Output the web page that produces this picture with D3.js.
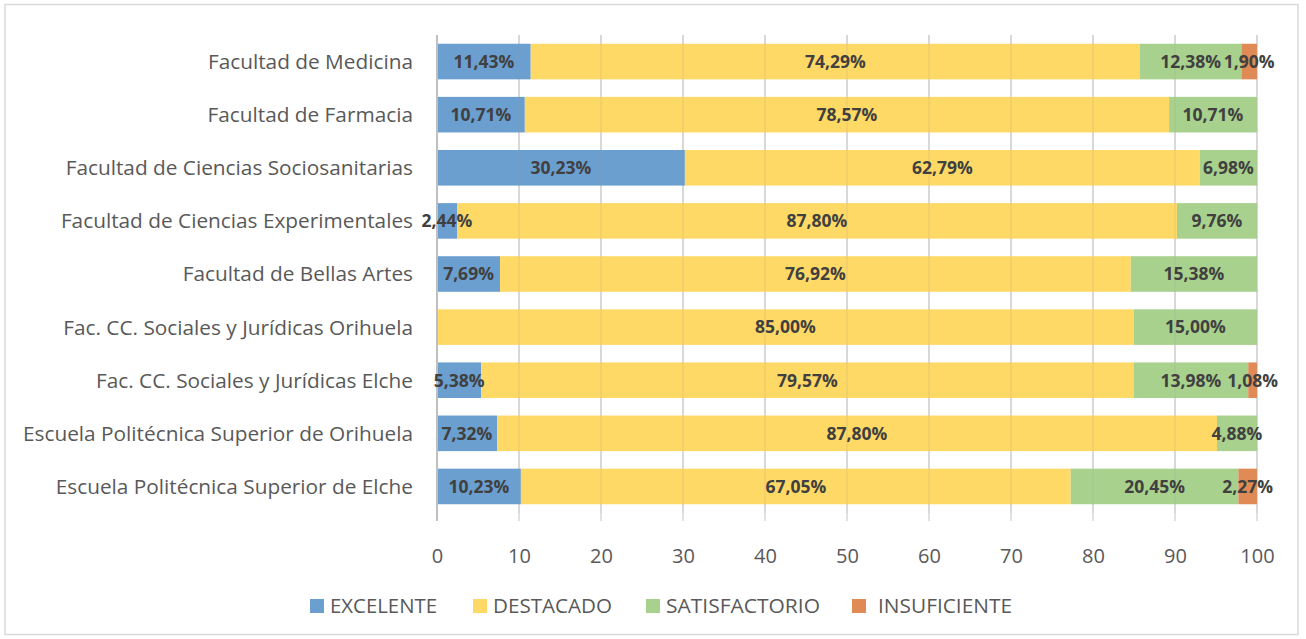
<!DOCTYPE html>
<html lang="es">
<head>
<meta charset="UTF-8">
<title>Valoración por centro</title>
<script src="https://d3js.org/d3.v7.min.js"></script>
<style>
  body { margin: 0; background: #fff; }
  svg { font-family: "Open Sans", Lato, sans-serif; }
</style>
</head>
<body>
<svg class="chart"></svg>
<script>
// datos
const categories = [
  "Facultad de Medicina",
  "Facultad de Farmacia",
  "Facultad de Ciencias Sociosanitarias",
  "Facultad de Ciencias Experimentales",
  "Facultad de Bellas Artes",
  "Fac. CC. Sociales y Jurídicas Orihuela",
  "Fac. CC. Sociales y Jurídicas Elche",
  "Escuela Politécnica Superior de Orihuela",
  "Escuela Politécnica Superior de Elche"
];
const seriesNames = ["EXCELENTE", "DESTACADO", "SATISFACTORIO", "INSUFICIENTE"];
const excelente     = [11.43, 10.71, 30.23, 2.44, 7.69, 0, 5.38, 7.32, 10.23];
const destacado     = [74.29, 78.57, 62.79, 87.80, 76.92, 85.00, 79.57, 87.80, 67.05];
const satisfactorio = [12.38, 10.71, 6.98, 9.76, 15.38, 15.00, 13.98, 4.88, 20.45];
const insuficiente  = [1.90, 0, 0, 0, 0, 0, 1.08, 0, 2.27];
const xTicks = [0, 10, 20, 30, 40, 50, 60, 70, 80, 90, 100];

const colors = ["#6b9fcf", "#ffd966", "#a9d18e", "#e08b55"];

const W = 1306, H = 639;
const svg = d3.select('.chart').attr('width', W).attr('height', H);

// marco
svg.append('rect')
  .attr('x', 5).attr('y', 4.5).attr('width', 1293).attr('height', 630)
  .attr('fill', '#fff').attr('stroke', '#d9d9d9').attr('stroke-width', 1.5);

const plotLeft = 437, plotRight = 1257, plotTop = 35, plotBottom = 513;

const x = d3.scaleLinear().domain([0, 100]).range([plotLeft, plotRight]);
const y = d3.scaleBand().domain(categories).range([plotTop, plotBottom]).paddingInner(0.33).paddingOuter(0.165);

const rows = categories.map((c, i) => ({
  cat: c,
  EXCELENTE: excelente[i],
  DESTACADO: destacado[i],
  SATISFACTORIO: satisfactorio[i],
  INSUFICIENTE: insuficiente[i]
}));
const stacked = d3.stack().keys(seriesNames)(rows);

// rejilla de fondo
svg.append('g')
  .selectAll('line')
  .data(xTicks.slice(1))
  .join('line')
  .attr('x1', d => x(d)).attr('x2', d => x(d))
  .attr('y1', plotTop).attr('y2', plotBottom + 8)
  .attr('stroke', '#d9d9d9').attr('stroke-width', 1.5);

// barras
const layers = svg.append('g')
  .selectAll('g')
  .data(stacked)
  .join('g')
  .attr('fill', (d, i) => colors[i]);

layers.selectAll('rect')
  .data(d => d.filter(s => s[1] - s[0] > 0))
  .join('rect')
  .attr('x', d => x(d[0]))
  .attr('width', d => x(d[1]) - x(d[0]))
  .attr('y', d => y(d.data.cat))
  .attr('height', y.bandwidth());

// rejilla encima (suave, se ve a través de las barras)
svg.append('g')
  .selectAll('line')
  .data(xTicks.slice(1))
  .join('line')
  .attr('x1', d => x(d)).attr('x2', d => x(d))
  .attr('y1', plotTop).attr('y2', plotBottom)
  .attr('stroke', '#9a9a9a').attr('stroke-opacity', 0.18).attr('stroke-width', 1.5);

// eje vertical
svg.append('line')
  .attr('x1', x(0)).attr('x2', x(0))
  .attr('y1', plotTop).attr('y2', plotBottom + 8)
  .attr('stroke', '#bfbfbf').attr('stroke-width', 2);

// etiquetas de valor (en un grupo aparte, encima de todas las barras)
const fmt = v => v.toFixed(2).replace('.', ',') + '%';
const segs = stacked.flatMap(layer => layer.filter(s => s[1] - s[0] > 0));
svg.append('g')
  .selectAll('text')
  .data(segs)
  .join('text')
  .attr('x', d => (x(d[0]) + x(d[1])) / 2)
  .attr('y', d => y(d.data.cat) + y.bandwidth() / 2)
  .attr('dy', '0.36em')
  .attr('text-anchor', 'middle')
  .attr('fill', '#404040')
  .attr('font-size', 17.5)
  .attr('font-weight', 'bold')
  .text(d => fmt(d[1] - d[0]));

// etiquetas de categoría
svg.append('g')
  .selectAll('text')
  .data(categories)
  .join('text')
  .attr('x', 413)
  .attr('y', d => y(d) + y.bandwidth() / 2)
  .attr('dy', '0.36em')
  .attr('text-anchor', 'end')
  .attr('fill', '#595959')
  .attr('font-size', 20.8)
  .text(d => d);

// eje x
const xAxis = svg.append('g')
  .attr('transform', `translate(0,${plotBottom})`)
  .call(d3.axisBottom(x).tickValues(xTicks).tickSize(0).tickPadding(36).tickFormat(d3.format('d')));
xAxis.select('.domain').remove();
xAxis.selectAll('text').attr('fill', '#595959').attr('font-size', 20)
  .attr('font-family', '"Open Sans", Lato, sans-serif');

// leyenda
const legendX = [310, 473, 646, 852];
const legendW = [107, 119, 154, 134];
const legend = svg.append('g')
  .selectAll('g')
  .data(seriesNames)
  .join('g')
  .attr('transform', (d, i) => `translate(${legendX[i]},599)`);
legend.append('rect')
  .attr('width', 14).attr('height', 14)
  .attr('fill', (d, i) => colors[i]);
legend.append('text')
  .attr('x', (d, i) => i === 3 ? 26 : 20)
  .attr('y', 7)
  .attr('dy', '0.36em')
  .attr('fill', '#595959')
  .attr('font-size', 19.5)
  .attr('textLength', (d, i) => legendW[i])
  .attr('lengthAdjust', 'spacingAndGlyphs')
  .text(d => d);
</script>
</body>
</html>
